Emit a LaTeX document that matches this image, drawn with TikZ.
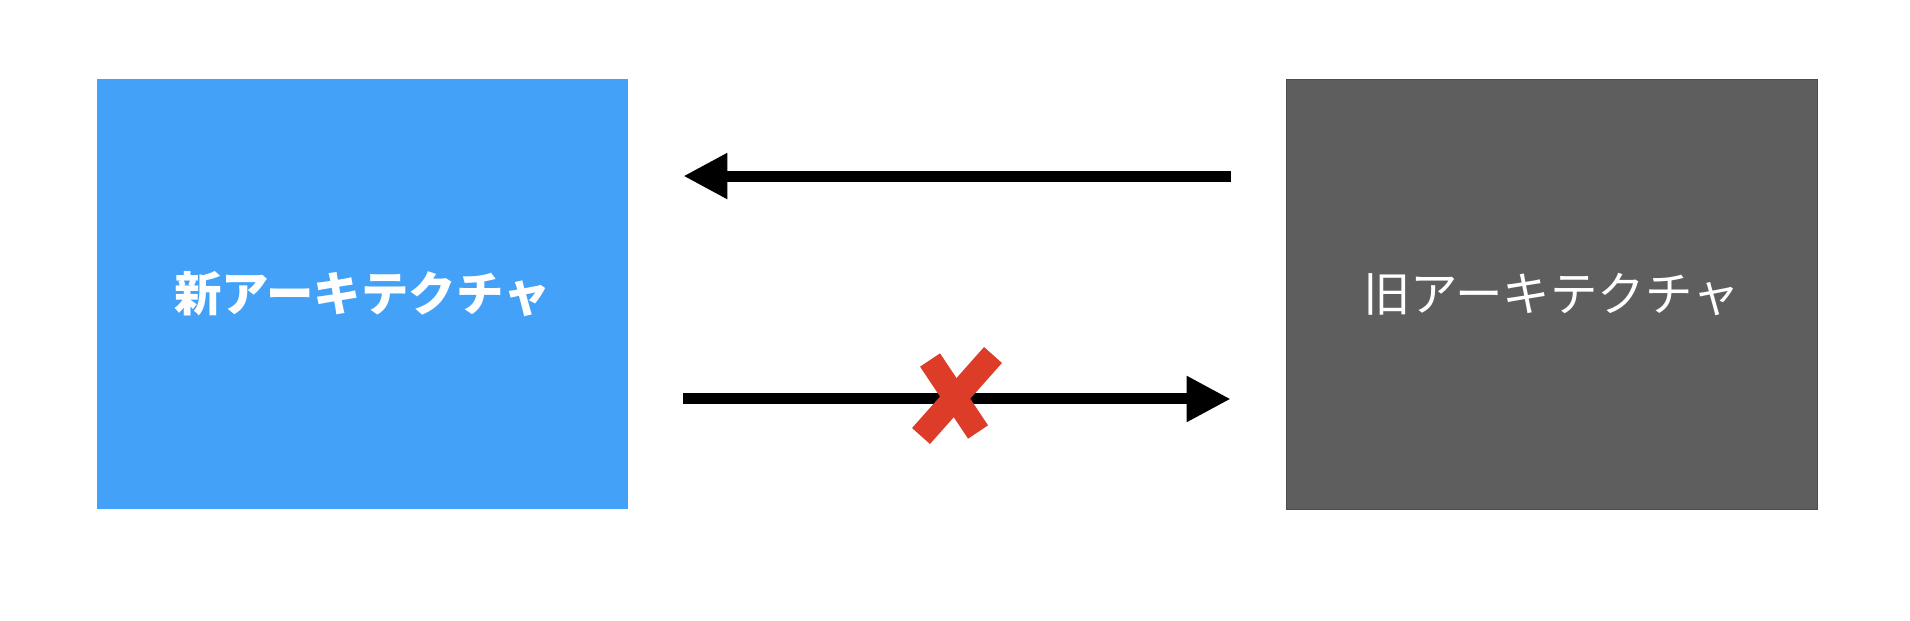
\documentclass[tikz,border=0pt]{standalone}
\usepackage{fontspec}
\usepackage{xcolor}
\usetikzlibrary{arrows.meta}
\newfontfamily\cjk{Noto Sans CJK JP}
\definecolor{newblue}{HTML}{43A1F8}
\definecolor{oldgray}{HTML}{5E5E5E}
\definecolor{crossred}{HTML}{DC3C28}

\begin{document}
\begin{tikzpicture}[
    x=0.02cm, y=-0.02cm,
    archbox/.style={rectangle, minimum width=10.62cm, minimum height=8.6cm, inner sep=0pt, text=white, font=\cjk\fontsize{27pt}{32pt}\selectfont},
    flow/.style={line width=0.22cm, -{Triangle[length=0.88cm, width=0.86cm]}, shorten >=1.1cm, shorten <=1.1cm}
  ]
    \useasboundingbox (0,0) rectangle (1910,620);

    % Boxes
    \node[archbox, fill=newblue] (new) at (362.5,294) {\bfseries 新アーキテクチャ};
    \node[archbox, fill=oldgray, draw=black!70, line width=0.4pt] (old) at (1551.5,294) {旧アーキテクチャ};

    % Arrows
    \draw[flow] ([yshift=2.36cm]old.west) -- ([yshift=2.36cm]new.east);
    \draw[flow] ([yshift=-2.1cm]new.east) -- ([yshift=-2.1cm]old.west);

    % Cross mark
    \coordinate (xa1) at (930,360);
    \coordinate (xa2) at (978,432);
    \coordinate (xb1) at (993,355);
    \coordinate (xb2) at (921,436);
    \draw[crossred, line width=0.48cm] (xa1) -- (xa2);
    \draw[crossred, line width=0.48cm] (xb1) -- (xb2);
  \end{tikzpicture}
\end{document}
